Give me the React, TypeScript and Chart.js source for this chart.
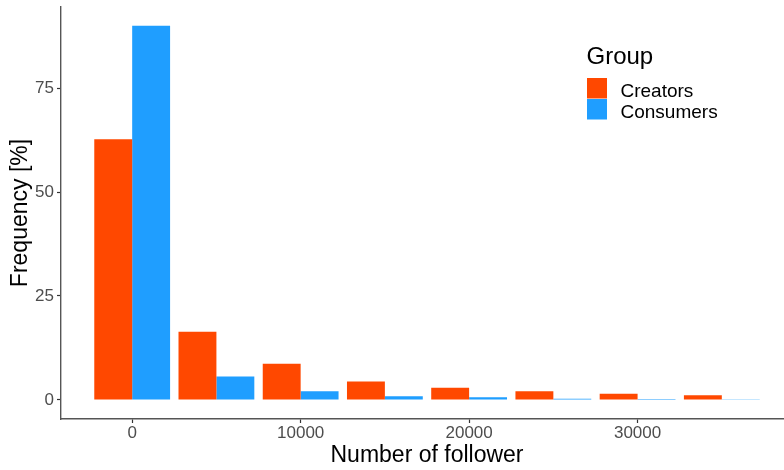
import React, { useEffect, useRef } from 'react';
import { Chart, registerables } from 'chart.js';

Chart.register(...registerables);

const binCenters = [0, 5000, 10000, 15000, 20000, 25000, 30000, 35000];
const creators = [62.7, 16.4, 8.7, 4.4, 2.9, 2.1, 1.45, 1.1];
const consumers = [90.0, 5.6, 2.1, 0.85, 0.65, 0.25, 0.2, 0.18];
const xTicks = [0, 10000, 20000, 30000];
const yTicks = [0, 25, 50, 75];
const seriesNames = ['Creators', 'Consumers'];
const seriesColors = ['#FF4800', '#1F9EFF'];
const legendTitle = 'Group';
const xTitle = 'Number of follower';
const yTitle = 'Frequency [%]';

const FAMILY = '"Liberation Sans", Arial, Helvetica, sans-serif';

const legendPlugin = {
  id: 'ggLegend',
  afterDraw(chart: any) {
    const ctx = chart.ctx as CanvasRenderingContext2D;
    ctx.save();
    ctx.textAlign = 'left';
    ctx.textBaseline = 'alphabetic';
    ctx.fillStyle = '#000000';
    ctx.font = `24px ${FAMILY}`;
    ctx.fillText(legendTitle, 586.5, 63.5);
    seriesNames.forEach((name, i) => {
      ctx.fillStyle = seriesColors[i];
      ctx.fillRect(587, 78 + i * 21, 20, 20.5);
      ctx.fillStyle = '#000000';
      ctx.font = `19px ${FAMILY}`;
      ctx.fillText(name, 620.5, 96.7 + i * 21.6);
    });
    ctx.restore();
  },
};

export default function App() {
  const ref = useRef<HTMLCanvasElement | null>(null);

  useEffect(() => {
    if (!ref.current) return;
    const toPts = (vals: number[]) => vals.map((v, i) => ({ x: binCenters[i], y: v }));
    const chart = new Chart(ref.current, {
      type: 'bar',
      data: {
        datasets: [
          {
            label: seriesNames[0],
            data: toPts(creators),
            backgroundColor: seriesColors[0],
            borderWidth: 0,
            categoryPercentage: 0.9,
            barPercentage: 1.0,
          },
          {
            label: seriesNames[1],
            data: toPts(consumers),
            backgroundColor: seriesColors[1],
            borderWidth: 0,
            categoryPercentage: 0.9,
            barPercentage: 1.0,
          },
        ],
      } as any,
      options: {
        responsive: false,
        animation: false,
        layout: { padding: { top: 7, left: 0, right: 0, bottom: 0 } },
        plugins: {
          legend: { display: false },
          tooltip: { enabled: false },
        },
        scales: {
          x: {
            type: 'linear',
            min: -4225,
            max: 39225,
            offset: false,
            afterBuildTicks: (s: any) => {
              s.ticks = xTicks.map((v) => ({ value: v }));
            },
            afterFit: (s: any) => {
              s.height = 51;
              s.paddingLeft = 0;
              s.paddingRight = 0;
            },
            grid: {
              display: true,
              offset: false,
              drawOnChartArea: false,
              drawTicks: true,
              tickLength: 4,
              tickWidth: 1.2,
              tickColor: '#333333',
              color: '#333333',
            },
            border: { display: true, color: '#555555', width: 1.4 },
            ticks: {
              color: '#4D4D4D',
              font: { size: 17, family: FAMILY },
              padding: 0,
              maxRotation: 0,
              autoSkip: false,
              callback: (v: any) => String(v),
            },
            title: {
              display: true,
              text: xTitle,
              color: '#000000',
              font: { size: 23, family: FAMILY },
              padding: { top: 0, bottom: 1 },
            },
          },
          y: {
            type: 'linear',
            min: -4.6,
            max: 94.5,
            afterBuildTicks: (s: any) => {
              s.ticks = yTicks.map((v) => ({ value: v }));
            },
            afterFit: (s: any) => {
              s.width = 61;
              s.paddingTop = 0;
              s.paddingBottom = 0;
            },
            grid: {
              display: true,
              offset: false,
              drawOnChartArea: false,
              drawTicks: true,
              tickLength: 4,
              tickWidth: 1.2,
              tickColor: '#333333',
              color: '#333333',
            },
            border: { display: true, color: '#555555', width: 1.4 },
            ticks: {
              color: '#4D4D4D',
              font: { size: 17, family: FAMILY },
              padding: 3,
              autoSkip: false,
              callback: (v: any) => String(v),
            },
            title: {
              display: true,
              text: yTitle,
              color: '#000000',
              font: { size: 23, family: FAMILY },
              padding: { top: 7, bottom: 0 },
            },
          },
        },
      } as any,
      plugins: [legendPlugin],
    });
    return () => chart.destroy();
  }, []);

  return (
    <div
      style={{
        position: 'fixed',
        left: 0,
        top: 0,
        width: 784,
        height: 470,
        overflow: 'hidden',
        background: '#ffffff',
      }}
    >
      <canvas ref={ref} width={793} height={470} style={{ display: 'block', width: 793, height: 470 }} />
    </div>
  );
}
